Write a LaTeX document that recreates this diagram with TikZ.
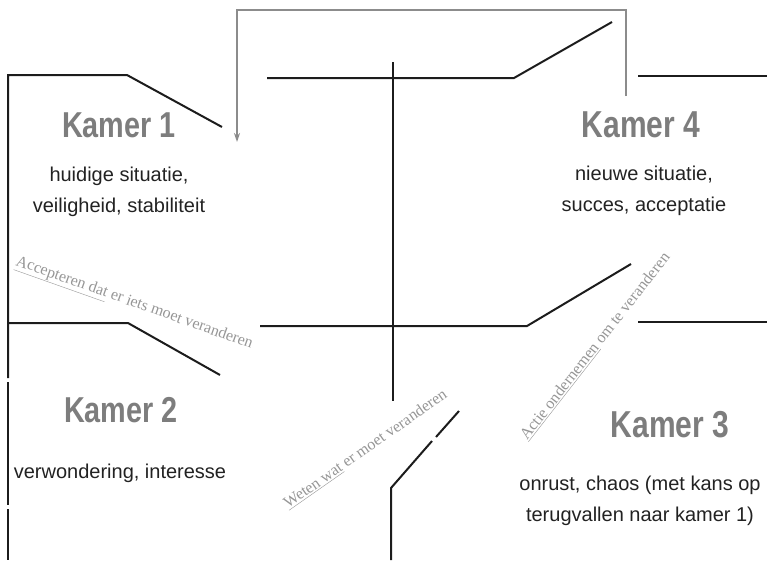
\documentclass[tikz,border=0pt]{standalone}
\usepackage{fontspec}
\newfontfamily\kamerfont[FakeStretch=0.8]{Liberation Sans}
\newfontfamily\bodyfont{Liberation Sans}
\newfontfamily\notefont{Liberation Serif}
\usetikzlibrary{arrows.meta}
\definecolor{wallblack}{RGB}{28,28,28}
\definecolor{kamergray}{RGB}{125,125,125}
\definecolor{notegray}{RGB}{150,150,150}
\definecolor{backgray}{RGB}{140,140,140}
\definecolor{bodyblack}{RGB}{34,34,34}

\begin{document}
\begin{tikzpicture}[x=1pt, y=-1pt,
  wall/.style={draw=wallblack, line width=2pt},
  back/.style={draw=backgray, line width=1.8pt, -{Stealth[length=9pt, width=6pt]}},
  kamer/.style={text=kamergray, font=\kamerfont\bfseries\fontsize{36}{36}\selectfont, anchor=base, inner sep=0pt},
  body/.style={text=bodyblack, font=\bodyfont\fontsize{20}{31}\selectfont, align=center, anchor=base, inner sep=0pt},
  note/.style={text=notegray, font=\notefont\fontsize{16}{16}\selectfont, anchor=base west, inner sep=0pt}]
  \useasboundingbox (0,0) rectangle (767,560);
  \coordinate (L) at (8,75);
  \coordinate (D1) at (127,75);
  \coordinate (D2) at (128,323);
  \coordinate (D3) at (514,78);
  \coordinate (D4) at (527,326);
  \coordinate (D5) at (391,488);
  % muren
  \draw[wall] (222,127) -- (D1) -- (L) -- (8,378);
  \draw[wall] (8,382) -- (8,505);
  \draw[wall] (8,509) -- (8,560);
  \draw[wall] (8,323) -- (D2) -- (220,375);
  \draw[wall] (267,78) -- (D3) -- (612,22);
  \draw[wall] (638,76) -- (767,76);
  \draw[wall] (393,62) -- (393,401);
  \draw[wall] (260,326) -- (D4) -- (631,264);
  \draw[wall] (638,322) -- (767,322);
  \draw[wall] (391,560) -- (D5) -- (432,441);
  \draw[wall] (436,437) -- (459,411);
  % terug naar kamer 1
  \draw[back] (626,96) -- (626,10) -- (237,10) -- (237,142);
  % kamers
  \node[kamer] (k1) at (119,137) {Kamer 1};
  \node[body] (t1) at (119,212) {huidige situatie,\\veiligheid, stabiliteit};
  \node[kamer] (k2) at (121,422) {Kamer 2};
  \node[body] (t2) at (120,478) {verwondering, interesse};
  \node[kamer, font=\kamerfont\bfseries\fontsize{37.5}{37.5}\selectfont] (k3) at (670,437) {Kamer 3};
  \node[body] (t3) at (640,521) {onrust, chaos (met kans op\\terugvallen naar kamer 1)};
  \node[kamer, font=\kamerfont\bfseries\fontsize{37.5}{37.5}\selectfont] (k4) at (641,137) {Kamer 4};
  \node[body] (t4) at (644,211) {nieuwe situatie,\\succes, acceptatie};
  % overgangen
  \node[note, rotate=-19.5] (n1) at (15,265) {\underline{Accepteren dat} er iets moet veranderen};
  \node[note, rotate=35] (n2) at (288,509) {\underline{Weten wat} er moet veranderen};
  \node[note, rotate=52] (n3) at (527,441) {\underline{Actie ondernemen} om te veranderen};
\end{tikzpicture}
\end{document}
